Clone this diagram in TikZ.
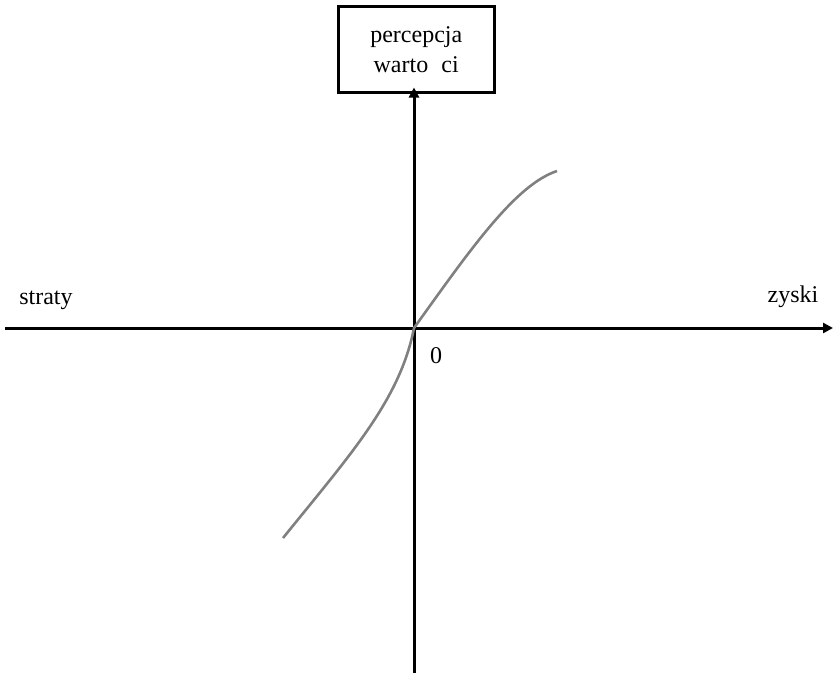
\documentclass[tikz,border=0pt]{standalone}
\usepackage{fontspec}
\setmainfont{Liberation Serif}
\usetikzlibrary{arrows.meta}
\begin{document}
\begin{tikzpicture}[x=1pt,y=-1pt,
  axis/.style={line width=3pt,-{Triangle[length=10pt,width=10pt]}},
  lbl/.style={font=\fontsize{24}{28}\selectfont,inner sep=0pt},
  curve/.style={draw={rgb,255:red,128;green,128;blue,128},line width=2.6pt}]
\useasboundingbox (0,0) rectangle (833,673);
\node[draw,line width=2.5pt,minimum width=156pt,minimum height=86pt,align=center,
  font=\fontsize{24}{30}\selectfont,anchor=north west,inner sep=0pt] (box) at (337,5)
  {percepcja\\warto\hspace{0.55em}ci};
\coordinate (o) at (414,328);
\coordinate (bot) at (414,673);
\coordinate (left) at (5,328);
\coordinate (right) at (833,328);
\draw[axis] (bot) -- ([yshift=6pt]box.south -| o);
\draw[axis] (left) -- (right);
\node[lbl] (straty) at (46,300) {straty};
\node[lbl] (zyski) at (793,297) {zyski};
\node[lbl] (zero) at (436,356) {0};
\draw[curve] (283,538) .. controls (350,455) and (400,400) .. (o)
  .. controls (470,250) and (515,185) .. (557,171);
\end{tikzpicture}
\end{document}
